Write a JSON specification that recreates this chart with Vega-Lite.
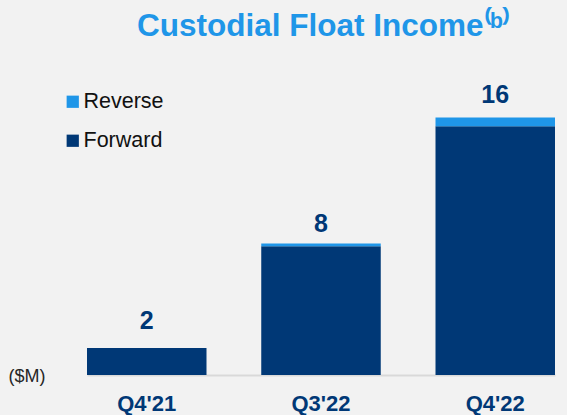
{
  "$schema": "https://vega.github.io/schema/vega-lite/v6.json",
  "autosize": {"type": "none"},
  "padding": {"left": 59, "top": 53, "right": 0, "bottom": 40},
  "width": 508,
  "height": 322,
  "background": "#f2f2f2",
  "config": {"view": {"stroke": null}, "font": "Liberation Sans"},
  "title": {
    "text": "Custodial Float Income⁽ᵇ⁾",
    "anchor": "start",
    "dx": 129,
    "offset": 17,
    "dy": 31,
    "baseline": "alphabetic",
    "fontSize": 31.5,
    "fontWeight": "bold",
    "font": "Liberation Sans",
    "color": "#1f96e8"
  },
  "datasets": {
    "bars": [
      {"quarter": "Q4'21", "type": "Forward", "value": 1.68},
      {"quarter": "Q4'21", "type": "Reverse", "value": 0},
      {"quarter": "Q3'22", "type": "Forward", "value": 8.0},
      {"quarter": "Q3'22", "type": "Reverse", "value": 0.16},
      {"quarter": "Q4'22", "type": "Forward", "value": 15.45},
      {"quarter": "Q4'22", "type": "Reverse", "value": 0.55}
    ],
    "labels": [
      {"quarter": "Q4'21", "total": 2},
      {"quarter": "Q3'22", "total": 8},
      {"quarter": "Q4'22", "total": 16}
    ]
  },
  "encoding": {
    "x": {
      "field": "quarter",
      "type": "nominal",
      "sort": ["Q4'21", "Q3'22", "Q4'22"],
      "scale": {"range": [28, 496], "paddingInner": 0.3142, "paddingOuter": 0},
      "axis": {
        "title": null,
        "domain": false,
        "ticks": false,
        "labelAngle": 0,
        "labelFontSize": 22,
        "labelFontWeight": "bold",
        "labelColor": "#003876",
        "labelPadding": 18,
        "labelFont": "Liberation Sans"
      }
    }
  },
  "layer": [
    {
      "data": {"name": "bars"},
      "mark": {"type": "bar", "strokeWidth": 0},
      "encoding": {
        "y": {
          "field": "value",
          "type": "quantitative",
          "stack": "zero",
          "scale": {"domain": [0, 20], "nice": false},
          "axis": {
            "title": "($M)",
            "titleAngle": 0,
            "titleAlign": "left",
            "titleBaseline": "middle",
            "titleX": -51,
            "titleY": 323,
            "titleFontSize": 18,
            "titleFontWeight": "normal",
            "titleColor": "#262626",
            "titleFont": "Liberation Sans",
            "domain": false,
            "ticks": false,
            "labels": false,
            "grid": true,
            "values": [0],
            "gridColor": "#d9d9d9",
            "gridWidth": 2
          }
        },
        "order": {"field": "type", "sort": "ascending"},
        "color": {
          "field": "type",
          "type": "nominal",
          "scale": {"domain": ["Reverse", "Forward"], "range": ["#1f96e8", "#003876"]},
          "legend": {
            "title": null,
            "orient": "none",
            "legendX": 3,
            "legendY": 38,
            "symbolType": "square",
            "symbolSize": 150,
            "symbolStrokeWidth": 0,
            "labelFontSize": 21.5,
            "labelFont": "Liberation Sans",
            "labelColor": "#111111",
            "labelOffset": 0,
            "rowPadding": 16,
            "padding": 0
          }
        }
      }
    },
    {
      "data": {"name": "labels"},
      "mark": {
        "type": "text",
        "baseline": "middle",
        "dy": -22,
        "fontSize": 25,
        "fontWeight": "bold",
        "font": "Liberation Sans",
        "color": "#003876"
      },
      "encoding": {
        "y": {"field": "total", "type": "quantitative"},
        "text": {"field": "total", "type": "quantitative"}
      }
    }
  ]
}
